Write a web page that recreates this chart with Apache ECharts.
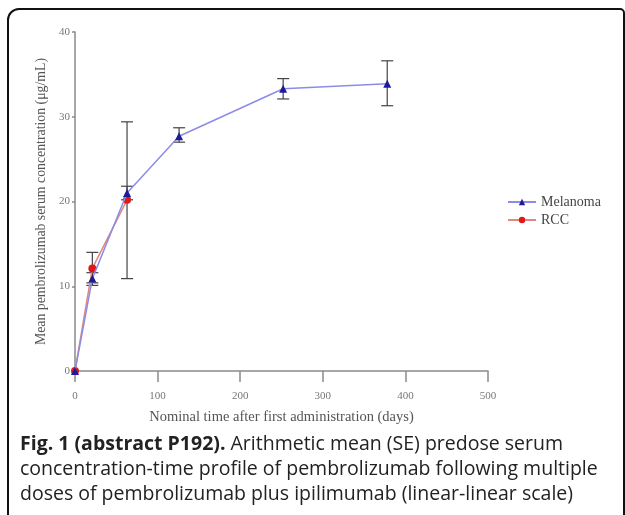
<!DOCTYPE html>
<html><head><meta charset="utf-8">
<script src="https://cdn.jsdelivr.net/npm/echarts@6/dist/echarts.min.js"></script>
<style>
html,body{margin:0;padding:0;width:625px;height:515px;overflow:hidden;background:#fff;}
#frame{position:absolute;left:7px;top:8px;width:618px;height:560px;border:2px solid #111;border-top-left-radius:12px;border-top-right-radius:5px;box-sizing:border-box;}
#chart{position:absolute;left:0;top:0;width:625px;height:430px;}
#cap{position:absolute;left:20px;top:430px;width:605px;font-family:"Open Sans",sans-serif;font-size:19.5px;line-height:25px;color:#222;white-space:nowrap;}
#cap b{font-weight:700;}
</style></head>
<body>
<div id="frame"></div>
<div id="chart"></div>
<div id="cap"><b>Fig. 1 (abstract P192).</b> Arithmetic mean (SE) predose serum<br>concentration-time profile of pembrolizumab following multiple<br>doses of pembrolizumab plus ipilimumab (linear-linear scale)</div>
<script>
const melDays = [0, 21, 63, 126, 252, 378];
const melMean = [0, 10.9, 21.0, 27.7, 33.3, 33.9];
const melLow  = [0, 10.1, 20.2, 27.0, 32.1, 31.3];
const melHigh = [0, 11.6, 21.8, 28.7, 34.5, 36.6];
const rccDays = [0, 21, 63];
const rccMean = [0, 12.1, 20.2];
const rccLow  = [0, 10.4, 10.9];
const rccHigh = [0, 14.0, 29.4];
const xTicks = [0, 100, 200, 300, 400, 500];
const yTicks = [0, 10, 20, 30, 40];

const chart = echarts.init(document.getElementById('chart'));
const serif = '"Liberation Serif","DejaVu Serif",serif';
function errData(d, lo, hi){ return d.map((x,i)=>[x, lo[i], hi[i]]); }
function errRender(params, api){
  const x = api.value(0), lo = api.value(1), hi = api.value(2);
  if (hi - lo <= 0) return null;
  const pLo = api.coord([x, lo]), pHi = api.coord([x, hi]);
  const w = 6;
  const st = {stroke:'#444', lineWidth:1.2};
  return {type:'group', children:[
    {type:'line', shape:{x1:pLo[0],y1:pLo[1],x2:pHi[0],y2:pHi[1]}, style:st},
    {type:'line', shape:{x1:pLo[0]-w,y1:pLo[1],x2:pLo[0]+w,y2:pLo[1]}, style:st},
    {type:'line', shape:{x1:pHi[0]-w,y1:pHi[1],x2:pHi[0]+w,y2:pHi[1]}, style:st}
  ]};
}
chart.setOption({
  animation:false,
  grid:{left:75, right:137, top:32, bottom:58},
  legend:{
    orient:'vertical', left:502, top:190, itemWidth:28, itemHeight:8, itemGap:4,
    data:['Melanoma','RCC'],
    textStyle:{fontFamily:serif, fontSize:14, color:'#444'}
  },
  xAxis:{
    type:'value', min:xTicks[0], max:xTicks[xTicks.length-1], interval:xTicks[1]-xTicks[0],
    name:'Nominal time after first administration (days)', nameLocation:'middle', nameGap:39,
    nameTextStyle:{fontFamily:serif, fontSize:14.5, color:'#555'},
    axisLine:{lineStyle:{color:'#8a8a8a', width:1.5}},
    axisTick:{length:11, lineStyle:{color:'#8a8a8a', width:1.5}},
    axisLabel:{fontFamily:serif, fontSize:11, color:'#777', margin:20},
    splitLine:{show:false}
  },
  yAxis:{
    type:'value', min:yTicks[0], max:yTicks[yTicks.length-1], interval:yTicks[1]-yTicks[0],
    name:'Mean pembrolizumab serum concentration (μg/mL)', nameLocation:'middle', nameGap:25,
    nameTextStyle:{fontFamily:serif, fontSize:13.8, color:'#555'},
    axisLine:{show:true, lineStyle:{color:'#8a8a8a', width:1.5}},
    axisTick:{show:true, length:3, lineStyle:{color:'#8a8a8a', width:1.5}},
    axisLabel:{fontFamily:serif, fontSize:11, color:'#777', margin:5},
    splitLine:{show:false}
  },
  series:[
    {type:'custom', name:'rccErr', renderItem:errRender, data:errData(rccDays, rccLow, rccHigh), z:3, silent:true},
    {type:'custom', name:'melErr', renderItem:errRender, data:errData(melDays, melLow, melHigh), z:3, silent:true},
    {type:'line', name:'RCC', data:rccDays.map((x,i)=>[x, rccMean[i]]),
     symbol:'circle', symbolSize:8, lineStyle:{color:'#e2867e', width:1.5},
     itemStyle:{color:'#e01818'}, z:4},
    {type:'line', name:'Melanoma', data:melDays.map((x,i)=>[x, melMean[i]]),
     symbol:'triangle', symbolSize:8, lineStyle:{color:'#8c8ce8', width:1.5},
     itemStyle:{color:'#1c1c9a'}, z:5}
  ]
});
</script>
</body></html>
